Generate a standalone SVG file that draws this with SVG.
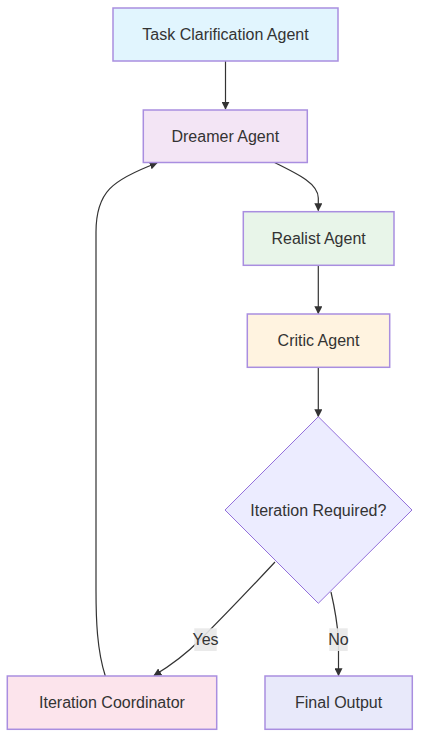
<svg xmlns="http://www.w3.org/2000/svg" width="428" height="751" viewBox="0 0 428 751">
<style>
.n{stroke:#a98ee0;stroke-width:1.5}
.t{font-family:"Trebuchet MS","Liberation Sans",Arial,sans-serif;font-size:16px;fill:#333;text-anchor:middle;dominant-baseline:central}
.e{fill:none;stroke:#333;stroke-width:1.2}
.lb{fill:#e8e8e8;opacity:0.9}
</style>
<defs>
<marker id="ah" viewBox="0 0 10 10" refX="9" refY="5" markerWidth="8" markerHeight="8" orient="auto" markerUnits="userSpaceOnUse">
<path d="M0,0 L10,5 L0,10 z" fill="#333"/>
</marker>
</defs>
<g id="edges">
<path class="e" d="M225.5,61 L225.5,109" marker-end="url(#ah)"/>
<path class="e" d="M274.5,162.5 C300,175 318.3,184 318.3,198 L318.3,210.5" marker-end="url(#ah)"/>
<path class="e" d="M318.3,265.5 L318.3,313.5" marker-end="url(#ah)"/>
<path class="e" d="M318.3,367.5 L318.3,416.5" marker-end="url(#ah)"/>
<path class="e" d="M275,562 Q232,608 200,640 Q180,660 154,675.5" marker-end="url(#ah)"/>
<path class="e" d="M331,592 Q337,618 338.5,640 L338.5,675.5" marker-end="url(#ah)"/>
<path class="e" d="M105.3,676 C97,650 96,620 96,590 L96,232 C96,192 112,180 157,163" marker-end="url(#ah)"/>
</g>
<g id="label-yes">
<rect class="lb" x="194.3" y="628.3" width="22.4" height="22.7"/>
<text class="t" x="205.5" y="639.7">Yes</text>
</g>
<g id="label-no">
<rect class="lb" x="329.3" y="628.3" width="18.4" height="22.7"/>
<text class="t" x="338.5" y="639.7">No</text>
</g>
<g id="task">
<rect class="n" x="113" y="8" width="225" height="53" fill="#e1f5fe"/>
<text class="t" x="225.5" y="34.5">Task Clarification Agent</text>
</g>
<g id="dreamer">
<rect class="n" x="143.3" y="110" width="164" height="52.5" fill="#f3e5f5"/>
<text class="t" x="225.3" y="136.3">Dreamer Agent</text>
</g>
<g id="realist">
<rect class="n" x="243.3" y="211.7" width="150.7" height="53.6" fill="#e8f5e9"/>
<text class="t" x="318.6" y="238.5">Realist Agent</text>
</g>
<g id="critic">
<rect class="n" x="247.3" y="314" width="142.4" height="53.3" fill="#fff3e0"/>
<text class="t" x="318.5" y="340.6">Critic Agent</text>
</g>
<g id="decision">
<polygon points="318.3,416.7 412,510 318.3,603.3 225,510" fill="#ececff" stroke="#9370db" stroke-width="1"/>
<text class="t" x="318.3" y="510">Iteration Required?</text>
</g>
<g id="coordinator">
<rect class="n" x="7.3" y="676" width="209.4" height="53.3" fill="#fce4ec"/>
<text class="t" x="112" y="702.6">Iteration Coordinator</text>
</g>
<g id="final">
<rect class="n" x="265" y="676" width="147.3" height="53.3" fill="#e8e9fa"/>
<text class="t" x="338.6" y="702.6">Final Output</text>
</g>
</svg>
